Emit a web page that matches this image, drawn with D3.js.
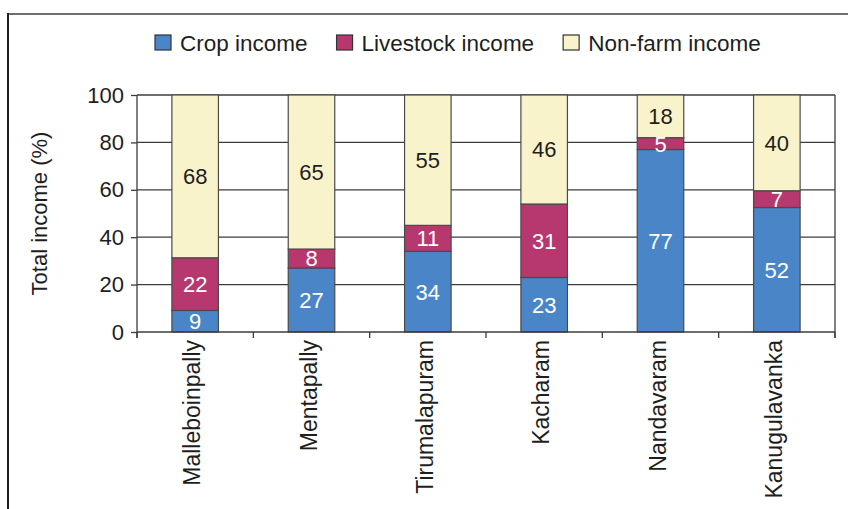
<!DOCTYPE html>
<html>
<head>
<meta charset="utf-8">
<script src="https://cdn.jsdelivr.net/npm/d3@7"></script>
<style>
  html, body { margin: 0; padding: 0; background: #fff; }
  svg { display: block; }
  text { font-family: "Liberation Sans", Arial, Helvetica, sans-serif; fill: #1e1e1e; }
</style>
</head>
<body>
<svg id="chart" width="848" height="509"></svg>
<script>
// Villages and income shares (%) by source
const villages = ["Malleboinpally", "Mentapally", "Tirumalapuram", "Kacharam", "Nandavaram", "Kanugulavanka"];
const cropIncome = [9, 27, 34, 23, 77, 52];
const livestockIncome = [22, 8, 11, 31, 5, 7];
const nonFarmIncome = [68, 65, 55, 46, 18, 40];
const seriesNames = ["Crop income", "Livestock income", "Non-farm income"];
const seriesColors = ["#4a86c7", "#b6386f", "#f9f3cc"];
const labelColors = ["#ffffff", "#ffffff", "#1e1e1e"];
const yTicks = [0, 20, 40, 60, 80, 100];

const keys = ["crop", "livestock", "nonfarm"];
const rows = villages.map((v, i) => ({
  village: v,
  crop: cropIncome[i],
  livestock: livestockIncome[i],
  nonfarm: nonFarmIncome[i]
}));

// 100% stacked columns: each village normalised to its total
const stacked = d3.stack().keys(keys).offset(d3.stackOffsetExpand)(rows);

const svg = d3.select("#chart");
const plot = { left: 137, right: 835, top: 95, bottom: 332 };

const x = d3.scaleBand()
  .domain(villages)
  .range([plot.left, plot.right])
  .paddingInner(0.6)
  .paddingOuter(0.3);

const y = d3.scaleLinear().domain([0, 1]).range([plot.bottom, plot.top]);

// Outer frame (top and left edges)
svg.append("line").attr("x1", 7).attr("x2", 848).attr("y1", 14).attr("y2", 14)
  .attr("stroke", "#6e6e6e").attr("stroke-width", 2);
svg.append("line").attr("x1", 8).attr("x2", 8).attr("y1", 13).attr("y2", 509)
  .attr("stroke", "#1e1e1e").attr("stroke-width", 2);

// Horizontal gridlines
svg.append("g").selectAll("line")
  .data(yTicks.filter(t => t > 0))
  .join("line")
  .attr("x1", plot.left).attr("x2", plot.right)
  .attr("y1", d => y(d / 100)).attr("y2", d => y(d / 100))
  .attr("stroke", "#3c3c3c").attr("stroke-width", 1.3);

// Right edge of the plot area
svg.append("line").attr("x1", plot.right).attr("x2", plot.right)
  .attr("y1", plot.top).attr("y2", plot.bottom + 6)
  .attr("stroke", "#3c3c3c").attr("stroke-width", 1.3);

// Stacked bars
const layer = svg.append("g").selectAll("g")
  .data(stacked)
  .join("g")
  .attr("fill", (d, i) => seriesColors[i]);

layer.selectAll("rect")
  .data(d => d)
  .join("rect")
  .attr("x", d => x(d.data.village))
  .attr("width", x.bandwidth())
  .attr("y", d => y(d[1]))
  .attr("height", d => y(d[0]) - y(d[1]))
  .attr("stroke", "#4a4a4a")
  .attr("stroke-width", 1.2);

// Value labels in each segment
stacked.forEach((s, si) => {
  svg.append("g").selectAll("text")
    .data(s)
    .join("text")
    .attr("x", d => x(d.data.village) + x.bandwidth() / 2)
    .attr("y", d => y((d[0] + d[1]) / 2))
    .attr("dy", "0.36em")
    .attr("text-anchor", "middle")
    .style("font-size", "22px")
    .style("fill", labelColors[si])
    .text(d => d.data[s.key]);
});

// Y axis
const yAxis = svg.append("g")
  .attr("transform", `translate(${plot.left},0)`)
  .call(d3.axisLeft(y).tickValues(yTicks.map(t => t / 100)).tickFormat(d => Math.round(d * 100)).tickSize(6).tickPadding(7));
yAxis.select(".domain").attr("stroke", "#3c3c3c").attr("stroke-width", 1.3).attr("d", `M0,${plot.top}V${plot.bottom + 6}`);
yAxis.selectAll(".tick line").attr("stroke", "#3c3c3c").attr("stroke-width", 1.3);
yAxis.selectAll(".tick text").style("font-size", "22px").style("font-family", '"Liberation Sans", Arial, sans-serif').attr("fill", "#1e1e1e");

// X axis: baseline with ticks at the category boundaries
const boundaries = d3.range(villages.length + 1).map(i => plot.left + i * x.step());
svg.append("line").attr("x1", plot.left).attr("x2", plot.right)
  .attr("y1", plot.bottom).attr("y2", plot.bottom)
  .attr("stroke", "#3c3c3c").attr("stroke-width", 1.3);
svg.append("g").selectAll("line")
  .data(boundaries)
  .join("line")
  .attr("x1", d => d).attr("x2", d => d)
  .attr("y1", plot.bottom).attr("y2", plot.bottom + 6)
  .attr("stroke", "#3c3c3c").attr("stroke-width", 1.3);

// Rotated village names
svg.append("g").selectAll("text")
  .data(villages)
  .join("text")
  .attr("transform", d => `translate(${x(d) + x.bandwidth() / 2 - 3},${plot.bottom + 8}) rotate(-90)`)
  .attr("dy", "0.36em")
  .attr("text-anchor", "end")
  .style("font-size", "23px")
  .text(d => d);

// Y axis title
svg.append("text")
  .attr("transform", `translate(47,${(plot.top + plot.bottom) / 2}) rotate(-90)`)
  .attr("text-anchor", "middle")
  .style("font-size", "22px")
  .text("Total income (%)");

// Legend
const legend = svg.append("g").attr("transform", "translate(155,43)");
let lx = 0;
seriesNames.forEach((name, i) => {
  const g = legend.append("g").attr("transform", `translate(${lx},0)`);
  g.append("rect").attr("x", 0).attr("y", -8).attr("width", 16).attr("height", 15)
    .attr("fill", seriesColors[i]).attr("stroke", "#333").attr("stroke-width", 1.2);
  const t = g.append("text").attr("x", 25).attr("dy", "0.36em")
    .style("font-size", "22.5px").text(name);
  lx += 25 + t.node().getComputedTextLength() + 29;
});
</script>
</body>
</html>
